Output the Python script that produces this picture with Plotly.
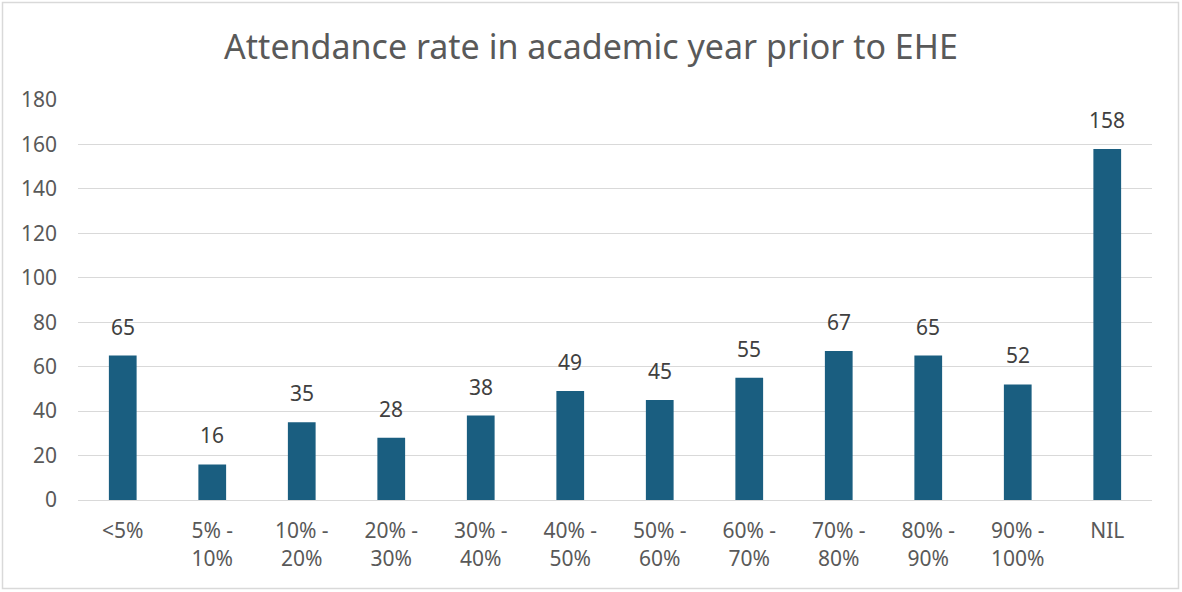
import plotly.graph_objects as go

categories = ["<5%", "5% -<br>10%", "10% -<br>20%", "20% -<br>30%", "30% -<br>40%",
              "40% -<br>50%", "50% -<br>60%", "60% -<br>70%", "70% -<br>80%",
              "80% -<br>90%", "90% -<br>100%", "NIL"]
values = [65, 16, 35, 28, 38, 49, 45, 55, 67, 65, 52, 158]
y_ticks = [0, 20, 40, 60, 80, 100, 120, 140, 160, 180]

W, H = 1182, 592
L, R, T, B = 78, 30, 100, 92
pw, ph = W - L - R, H - T - B

FONT = "Noto Sans, Open Sans, Arial, sans-serif"
GREY = "#595959"

fig = go.Figure(go.Bar(
    x=categories, y=values, marker=dict(color="#1a5e80", line=dict(width=0)),
    width=0.31, hoverinfo="x+y",
))

for c, v in zip(categories, values):
    fig.add_annotation(x=c, y=v, text=str(v), showarrow=False, yanchor="bottom",
                       yshift=13, font=dict(family=FONT, size=21, color="#404040"))

fig.add_shape(type="rect", xref="paper", yref="paper",
              x0=(2.5 - L) / pw, x1=(W - 3.5 - L) / pw,
              y0=-(B - 3.5) / ph,
              y1=1 + (T - 2.5) / ph,
              line=dict(color="#d9d9d9", width=1.5), fillcolor="rgba(0,0,0,0)", layer="below")

fig.update_layout(
    width=W, height=H, margin=dict(l=L, r=R, t=T, b=B),
    paper_bgcolor="white", plot_bgcolor="white",
    title=dict(text="Attendance rate in academic year prior to EHE", x=0.5, xanchor="center",
               y=1 - 47 / H, yanchor="middle",
               font=dict(family=FONT, size=34, color=GREY)),
    showlegend=False, bargap=0.69,
    xaxis=dict(showgrid=False, showline=True, linecolor="#d9d9d9", linewidth=1,
               ticks="", tickfont=dict(family=FONT, size=21, color=GREY),
               ticklabelstandoff=12),
    yaxis=dict(range=[0, 180], tickvals=y_ticks, showgrid=True, gridcolor="#d9d9d9",
               gridwidth=1, zeroline=False, showline=False, ticks="",
               tickfont=dict(family=FONT, size=21, color=GREY), ticklabelstandoff=20),
)

fig.write_html("out.html")
